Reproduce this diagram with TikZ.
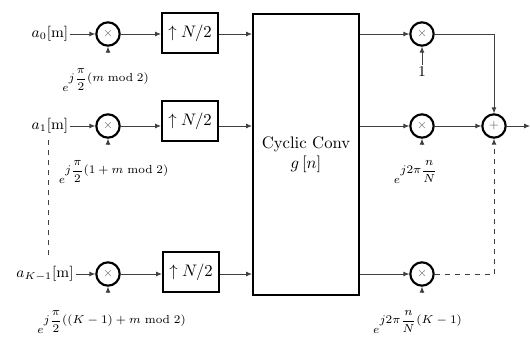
\documentclass[tikz,border=0pt]{standalone}
\usetikzlibrary{arrows.meta,calc}
\begin{document}
\begin{tikzpicture}[x=0.6pt,y=-0.6pt,
  thin/.style={line width=0.5pt,draw=black!75},
  arr/.style={thin,-{Latex[length=3.5pt,width=3pt]}},
  dsh/.style={thin,dashed},
  mult/.style={circle,draw=black,line width=1.3pt,minimum size=14pt,inner sep=0pt,font=\scriptsize,text=black!60},
  blk/.style={rectangle,draw=black,line width=1.3pt,inner sep=0pt},
  lab/.style={font=\small,inner sep=1pt},
  elab/.style={font=\scriptsize,inner sep=1pt}]
\useasboundingbox (0,0) rectangle (530,345);
% inputs
\node[lab] (in0) at (50,34) {$a_0$[m]};
\node[lab] (in1) at (50,126) {$a_1$[m]};
\node[lab] (in2) at (45,274) {$a_{K-1}$[m]};
% left multipliers
\node[mult] (m0) at (108,34) {$\times$};
\node[mult] (m1) at (108,126) {$\times$};
\node[mult] (m2) at (108,274) {$\times$};
% upsamplers
\node[blk,minimum width=33.6pt,minimum height=24pt] (u0) at (190,33) {$\uparrow N/2$};
\node[blk,minimum width=33.6pt,minimum height=24pt] (u1) at (190,121) {$\uparrow N/2$};
\node[blk,minimum width=33.6pt,minimum height=24pt] (u2) at (191,272) {$\uparrow N/2$};
% conv
\node[blk,minimum width=63.6pt,minimum height=168.6pt,align=center] (cv) at (306,154.5) {Cyclic Conv\\$g\,[n]$};
% right multipliers
\node[mult] (r0) at (422,34) {$\times$};
\node[mult] (r1) at (422,126) {$\times$};
\node[mult] (r2) at (422,274) {$\times$};
\node[mult] (ad) at (494,126) {$+$};
\coordinate (out) at (530,126);
\coordinate (c0) at (494,34);
\coordinate (c2) at (494,274);
% exponent labels
\node[elab] (e0) at (106,80) {$e^{\displaystyle j\frac{\pi}{2}(m \bmod 2)}$};
\node[elab] (e1) at (114,172) {$e^{\displaystyle j\frac{\pi}{2}(1+m \bmod 2)}$};
\node[elab] (e2) at (112,322) {$e^{\displaystyle j\frac{\pi}{2}((K-1)+m \bmod 2)}$};
\node[elab,font=\small] (f0) at (422,72) {$1$};
\node[elab] (f1) at (416,172) {$e^{\displaystyle j2\pi\frac{n}{N}}$};
\node[elab] (f2) at (418,322) {$e^{\displaystyle j2\pi\frac{n}{N}(K-1)}$};
% connectors
\foreach \i in {0,1,2}{
  \draw[arr] (in\i) -- (m\i);
  \draw[arr] (m\i) -- (u\i.west |- m\i);
  \draw[arr] (u\i.east |- m\i) -- (cv.west |- m\i);
  \draw[arr] (cv.east |- r\i) -- (r\i);
}
\draw[arr] ($(m0.south)+(0,6)$) -- (m0);
\draw[arr] ($(m1.south)+(0,6)$) -- (m1);
\draw[arr] ($(m2.south)+(0,6)$) -- (m2);
\draw[arr] (f0) -- (r0);
\draw[arr] ($(r1.south)+(0,6)$) -- (r1);
\draw[arr] ($(r2.south)+(0,6)$) -- (r2);
\draw[arr] (r0) -- (c0) -- (ad);
\draw[arr] (r1) -- (ad);
\draw[dsh] (r2) -- (c2);
\draw[dsh,-{Latex[length=3.5pt,width=3pt]}] (c2) -- (ad);
\draw[arr] (ad) -- (out);
\draw[dsh] (48,140) -- (48,258);
\end{tikzpicture}
\end{document}
